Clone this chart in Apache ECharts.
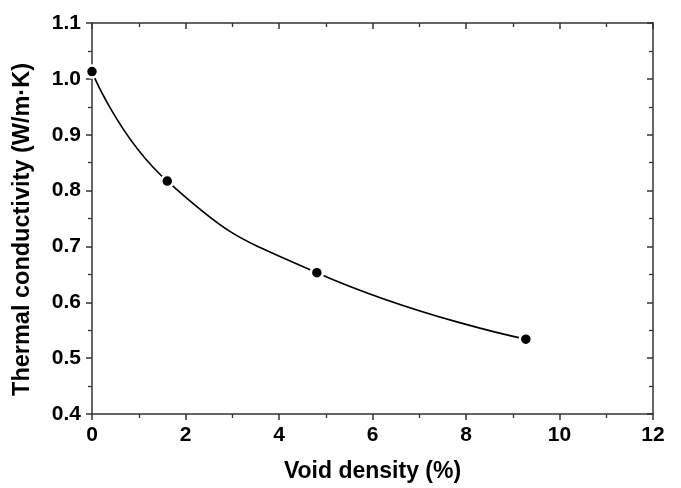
<!DOCTYPE html>
<html><head><meta charset="utf-8">
<script src="https://cdn.jsdelivr.net/npm/echarts@6/dist/echarts.min.js"></script>
<style>html,body{margin:0;padding:0;background:#fff}#c{width:681px;height:488px}</style>
</head><body><div id="c"></div>
<script>
const voidDensity = [0, 1.61, 4.81, 9.28];
const conductivity = [1.013, 0.817, 0.653, 0.534];
const xTicks = [0, 2, 4, 6, 8, 10, 12];
const yTicks = [0.4, 0.5, 0.6, 0.7, 0.8, 0.9, 1.0, 1.1];

const FONT = 'Liberation Sans';
const axisCol = '#333';
const chart = echarts.init(document.getElementById('c'));
const baseX = {type:'value', min:xTicks[0], max:xTicks[xTicks.length-1], interval:2,
  axisLine:{show:true, onZero:false, lineStyle:{color:axisCol, width:1.5}},
  splitLine:{show:false}};
const baseY = {type:'value', min:yTicks[0], max:yTicks[yTicks.length-1], interval:0.1,
  axisLine:{show:true, onZero:false, lineStyle:{color:axisCol, width:1.5}},
  splitLine:{show:false}};
chart.setOption({
  animation:false,
  grid:{left:92, right:28, top:23, bottom:73},
  xAxis:[
    Object.assign({}, baseX, {position:'bottom',
      axisTick:{show:true, inside:false, length:6, lineStyle:{color:axisCol, width:1.5}},
      minorTick:{show:true, splitNumber:2, length:4, lineStyle:{color:axisCol, width:1.3}},
      axisLabel:{margin:11, color:'#000', fontFamily:FONT, fontWeight:'bold', fontSize:21},
      name:'Void density (%)', nameLocation:'middle', nameGap:46,
      nameTextStyle:{color:'#000', fontFamily:FONT, fontWeight:'bold', fontSize:23}}),
    Object.assign({}, baseX, {position:'top',
      axisTick:{show:true, inside:true, length:6, lineStyle:{color:axisCol, width:1.5}},
      minorTick:{show:true, splitNumber:2, length:4, lineStyle:{color:axisCol, width:1.3}},
      axisLabel:{show:false}})
  ],
  yAxis:[
    Object.assign({}, baseY, {position:'left',
      axisTick:{show:true, inside:false, length:6, lineStyle:{color:axisCol, width:1.5}},
      minorTick:{show:true, splitNumber:2, length:4, lineStyle:{color:axisCol, width:1.3}},
      axisLabel:{margin:11, color:'#000', fontFamily:FONT, fontWeight:'bold', fontSize:21,
        formatter:v=>v.toFixed(1)},
      name:'Thermal conductivity (W/m\u00b7K)', nameLocation:'middle', nameGap:57,
      nameTextStyle:{color:'#000', fontFamily:FONT, fontWeight:'bold', fontSize:23.5,
        padding:[0, 22, 0, 0]}}),
    Object.assign({}, baseY, {position:'right',
      axisTick:{show:true, inside:true, length:6, lineStyle:{color:axisCol, width:1.5}},
      minorTick:{show:true, splitNumber:2, length:4, lineStyle:{color:axisCol, width:1.3}},
      axisLabel:{show:false}})
  ],
  series:[{
    type:'line', xAxisIndex:0, yAxisIndex:0,
    data: voidDensity.map((x,i)=>[x, conductivity[i]]),
    smooth:0.5, clip:false,
    symbol:'circle', symbolSize:12,
    lineStyle:{color:'#000', width:1.6},
    itemStyle:{color:'#000', borderColor:'#fff', borderWidth:2.5}
  }]
});
</script></body></html>
